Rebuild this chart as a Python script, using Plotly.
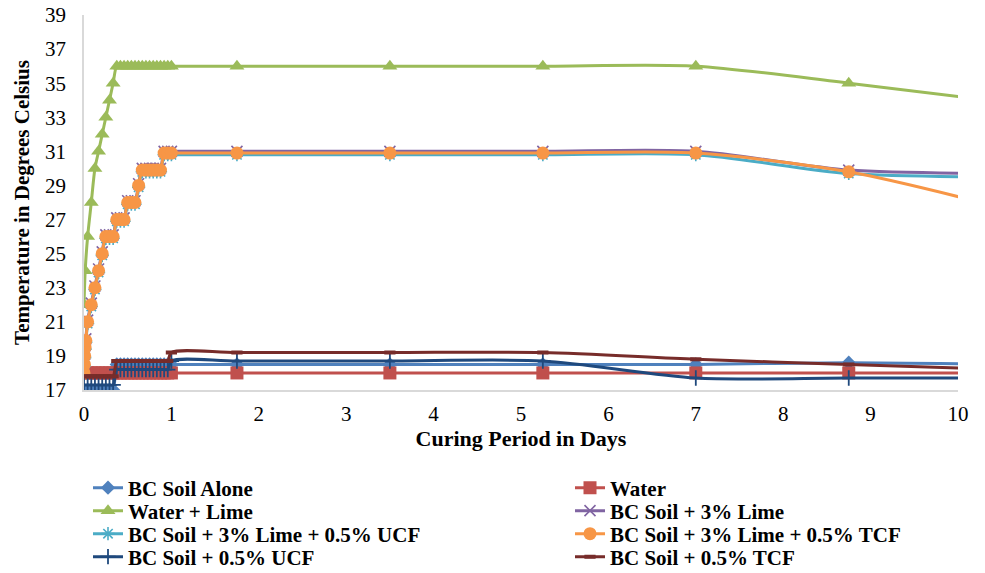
import plotly.graph_objects as go

# ---- time points ----
# early readings (hours) for the lime-treated soil series
hours_lime = [0, 0.1, 0.2, 0.3, 0.5] + list(range(1, 25))
# early readings (hours) for Water + Lime
hours_wl = [0, 0.33] + list(range(1, 25))
# early readings (hours) for the other series
hours_std = list(range(0, 25))
# later readings (days)
days_late = [1.75, 3.5, 5.25, 7, 8.75, 10.5]

# ---- series values (deg C) ----
bc_alone = [17.0] * 9 + [18.5] * 16
bc_alone_late = [18.5, 18.5, 18.5, 18.5, 18.6, 18.5]

water = [18.0] * 25
water_late = [18.0, 18.0, 18.0, 18.0, 18.0, 18.0]

water_lime = [22, 24, 26, 28, 30, 31, 32, 33, 34, 35] + [36] * 16
water_lime_late = [36, 36, 36, 36, 35, 33.9]

lime3 = [18.1, 18.6, 19.1, 19.6, 20.0, 21.1, 22.1, 23.1, 24.1, 25.1,
         26.1, 26.1, 26.1, 27.1, 27.1, 27.1, 28.1, 28.1, 28.1, 29.1,
         30.0, 30.0, 30.0, 30.0, 30.0, 30.0, 31.0, 31.0, 31.0]
lime3_late = [31.0, 31.0, 31.0, 31.0, 29.9, 29.7]

lime3_ucf = [17.9, 18.4, 18.9, 19.4, 19.8, 20.9, 21.9, 22.9, 23.9, 24.9,
             25.9, 25.9, 25.9, 26.9, 26.9, 26.9, 27.9, 27.9, 27.9, 28.9,
             29.8, 29.8, 29.8, 29.8, 29.8, 29.8, 30.8, 30.8, 30.8]
lime3_ucf_late = [30.8, 30.8, 30.8, 30.8, 29.7, 29.5]

lime3_tcf = [18.0, 18.5, 19.0, 19.5, 19.9, 21.0, 22.0, 23.0, 24.0, 25.0,
             26.0, 26.0, 26.0, 27.0, 27.0, 27.0, 28.0, 28.0, 28.0, 29.0,
             29.9, 29.9, 29.9, 29.9, 29.9, 29.9, 30.9, 30.9, 30.9]
lime3_tcf_late = [30.9, 30.9, 30.9, 30.9, 29.8, 27.7]

ucf = [17.3] * 9 + [18.2] * 15 + [18.7]
ucf_late = [18.7, 18.7, 18.7, 17.7, 17.7, 17.7]

tcf = [17.8] * 9 + [18.7] * 15 + [19.2]
tcf_late = [19.2, 19.2, 19.2, 18.8, 18.5, 18.2]

names = ["BC Soil Alone", "Water", "Water + Lime", "BC Soil + 3% Lime",
         "BC Soil + 3% Lime + 0.5% UCF", "BC Soil + 3% Lime + 0.5% TCF",
         "BC Soil + 0.5% UCF", "BC Soil + 0.5% TCF"]
x_ticks = list(range(0, 11))
y_ticks = list(range(17, 40, 2))

series = [
    (hours_std, bc_alone, bc_alone_late, "#4F81BD", "diamond", 11, 0),
    (hours_std, water, water_late, "#C0504D", "square", 13, 0),
    (hours_wl, water_lime, water_lime_late, "#9BBB59", "triangle-up", 13, 0),
    (hours_lime, lime3, lime3_late, "#8064A2", "x-thin", 11, 1.6),
    (hours_lime, lime3_ucf, lime3_ucf_late, "#4BACC6", "asterisk", 11, 1.6),
    (hours_lime, lime3_tcf, lime3_tcf_late, "#F79646", "circle", 13, 0),
    (hours_std, ucf, ucf_late, "#1F497D", "cross-thin", 11, 1.8),
    (hours_std, tcf, tcf_late, "#772C2A", "line-ew", 8, 4),
]

W, H = 985, 573
PLOT_L, PLOT_R, PLOT_T, PLOT_B = 84, 958, 15, 390
font_family = "Liberation Serif"
legend_font = dict(family=font_family, size=21, weight="bold", color="black")

fig = go.Figure()
legend_layout = {}
for i, ((hrs, early, late, color, sym, size, lw), name) in enumerate(zip(series, names)):
    xs = [h / 24 for h in hrs] + days_late
    ys = early + late
    key = "legend" if i == 0 else f"legend{i + 1}"
    fig.add_trace(go.Scatter(
        x=xs, y=ys, name=name, mode="lines+markers", legend=key,
        line=dict(color=color, width=3, shape="spline", smoothing=0.8),
        marker=dict(symbol=sym, size=size, color=color,
                    line=dict(width=lw, color=color)),
    ))
    row, col = divmod(i, 2)
    row_center_px = 488 + row * 23
    left_px = 88 if col == 0 else 570
    legend_layout[key] = dict(
        x=left_px / W, y=1 - row_center_px / H,
        xanchor="left", yanchor="middle", orientation="v",
        font=legend_font, itemwidth=30, bgcolor="rgba(0,0,0,0)",
    )

fig.update_layout(
    width=W, height=H,
    margin=dict(l=0, r=0, t=0, b=0, autoexpand=False),
    paper_bgcolor="white", plot_bgcolor="white",
    font=dict(family=font_family, color="black", size=21),
    showlegend=True,
    **legend_layout,
)
fig.update_xaxes(
    domain=[PLOT_L / W, PLOT_R / W],
    range=[0, 10], tickvals=x_ticks, ticktext=[str(v) for v in x_ticks],
    showline=True, linecolor="#D9D9D9", linewidth=1.5, showgrid=False,
    zeroline=False, ticks="", ticklabelstandoff=4, automargin=False,
    tickfont=dict(size=21, family=font_family),
    title=dict(text="Curing Period in Days", standoff=6,
               font=dict(size=22, family=font_family, weight="bold")),
)
fig.update_yaxes(
    domain=[1 - PLOT_B / H, 1 - PLOT_T / H],
    range=[17, 39], tickvals=y_ticks, ticktext=[str(v) for v in y_ticks],
    showline=True, linecolor="#D9D9D9", linewidth=1.5, showgrid=False,
    zeroline=False, ticks="", ticklabelstandoff=12, automargin=False,
    tickfont=dict(size=21, family=font_family),
    title=dict(text="Temperature in Degrees Celsius", standoff=10,
               font=dict(size=21, family=font_family, weight="bold")),
)

fig.write_html("out.html")
